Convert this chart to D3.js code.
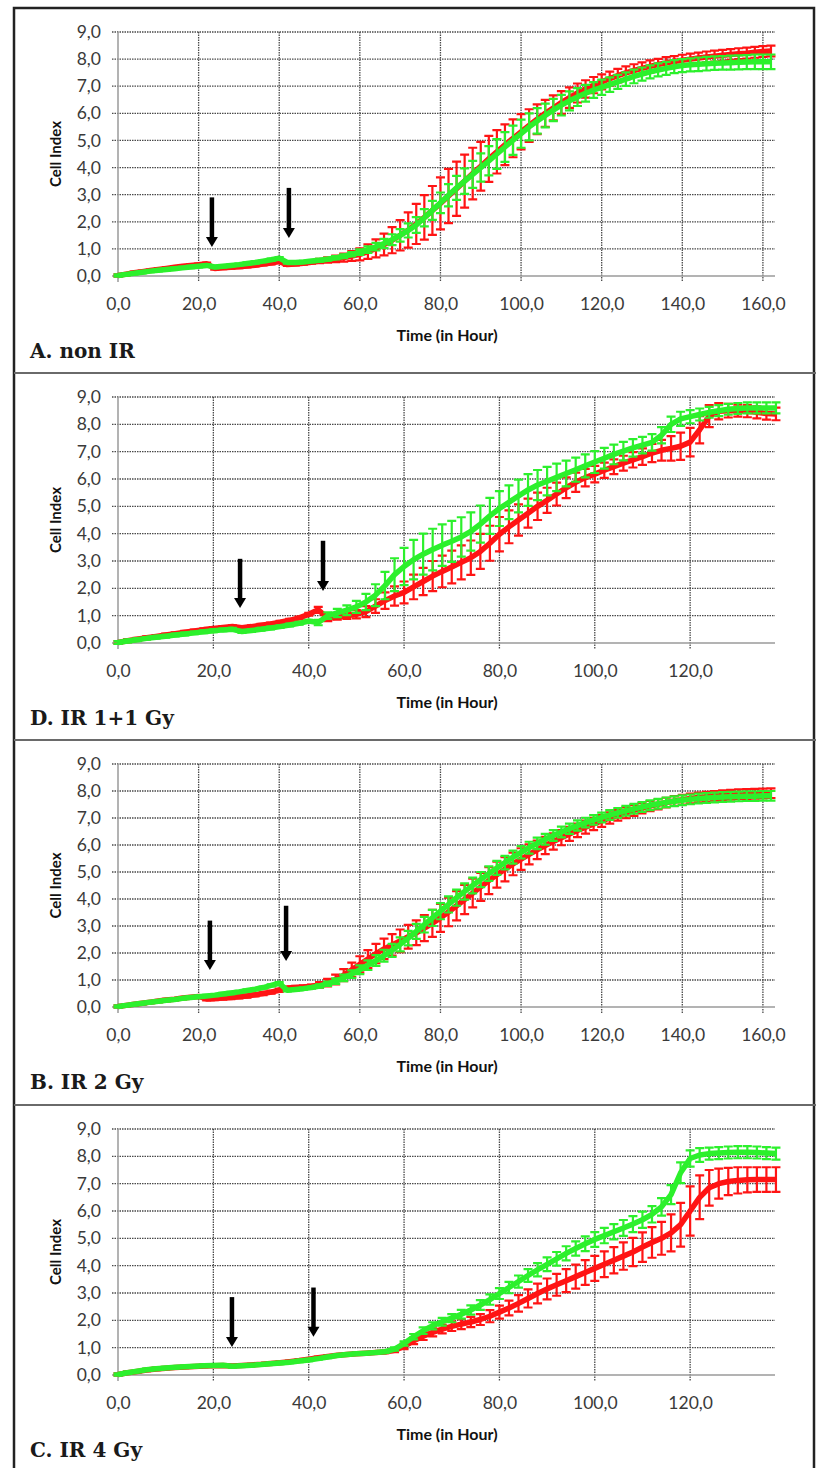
<!DOCTYPE html>
<html>
<head>
<meta charset="utf-8">
<script src="https://cdn.jsdelivr.net/npm/d3@7"></script>
<style>
  body { margin: 0; background: #fff; }
  svg { display: block; }
</style>
</head>
<body>
<svg id="chart" width="816" height="1468"></svg>
<script>
// sampling times (hours)
const hoursLong = [0,2,4,6,8,10,12,14,16,18,20,22,24,26,28,30,32,34,36,38,40,42,44,46,48,50,52,54,56,58,
  60,62,64,66,68,70,72,74,76,78,80,82,84,86,88,90,92,94,96,98,100,102,104,106,108,110,112,114,116,118,
  120,122,124,126,128,130,132,134,136,138,140,142,144,146,148,150,152,154,156,158,160,162];
const hoursShort = [0,2,4,6,8,10,12,14,16,18,20,22,24,26,28,30,32,34,36,38,40,42,44,46,48,50,52,54,56,58,
  60,62,64,66,68,70,72,74,76,78,80,82,84,86,88,90,92,94,96,98,100,102,104,106,108,110,112,114,116,118,
  120,122,124,126,128,130,132,134,136,138];

const yTicks = [0,1,2,3,4,5,6,7,8,9];
const xTicksLong = [0,20,40,60,80,100,120,140,160];
const xTicksShort = [0,20,40,60,80,100,120];

// A. non IR
const redMeanA = [0.02,0.07,0.12,0.16,0.20,0.24,0.28,0.32,0.36,0.39,
  0.42,0.45,0.28,0.30,0.32,0.34,0.37,0.40,0.44,0.48,
  0.53,0.42,0.44,0.47,0.51,0.55,0.59,0.63,0.68,0.74,
  0.80,0.90,1.02,1.16,1.32,1.50,1.70,1.92,2.16,2.42,
  2.68,2.95,3.22,3.50,3.78,4.05,4.32,4.58,4.84,5.08,
  5.32,5.55,5.78,6.00,6.20,6.40,6.58,6.75,6.90,7.04,
  7.16,7.28,7.39,7.49,7.58,7.66,7.73,7.80,7.86,7.91,
  7.96,8.00,8.04,8.08,8.11,8.14,8.17,8.20,8.22,8.25,
  8.28,8.30];
const redSdA = [0.04,0.04,0.04,0.04,0.04,0.04,0.04,0.04,0.04,0.04,
  0.04,0.04,0.05,0.05,0.05,0.05,0.05,0.05,0.05,0.05,
  0.05,0.05,0.05,0.05,0.05,0.08,0.10,0.12,0.15,0.18,
  0.22,0.27,0.33,0.40,0.48,0.56,0.65,0.74,0.82,0.90,
  0.96,1.00,1.00,0.98,0.95,0.90,0.85,0.80,0.75,0.70,
  0.65,0.60,0.55,0.50,0.46,0.42,0.38,0.35,0.32,0.30,
  0.28,0.26,0.25,0.24,0.23,0.22,0.22,0.21,0.21,0.20,
  0.20,0.20,0.20,0.20,0.20,0.20,0.20,0.20,0.20,0.20,
  0.20,0.20];
const greenMeanA = [0.02,0.06,0.10,0.14,0.18,0.21,0.24,0.27,0.30,0.33,
  0.36,0.39,0.33,0.36,0.39,0.42,0.46,0.50,0.55,0.60,
  0.66,0.50,0.50,0.52,0.55,0.58,0.62,0.67,0.73,0.80,
  0.88,0.97,1.08,1.20,1.34,1.50,1.68,1.88,2.15,2.42,
  2.70,2.98,3.25,3.50,3.75,4.00,4.25,4.50,4.76,5.01,
  5.25,5.50,5.72,5.92,6.12,6.30,6.46,6.60,6.74,6.86,
  6.96,7.06,7.16,7.26,7.36,7.45,7.53,7.60,7.66,7.72,
  7.76,7.79,7.81,7.83,7.85,7.86,7.87,7.88,7.89,7.90,
  7.90,7.90];
const greenSdA = [0.04,0.04,0.04,0.04,0.04,0.04,0.04,0.04,0.04,0.04,
  0.04,0.04,0.04,0.04,0.04,0.04,0.04,0.04,0.04,0.04,
  0.04,0.04,0.04,0.04,0.04,0.05,0.05,0.06,0.07,0.08,
  0.10,0.12,0.14,0.17,0.20,0.23,0.26,0.29,0.32,0.35,
  0.38,0.41,0.44,0.47,0.50,0.52,0.54,0.55,0.55,0.54,
  0.52,0.50,0.47,0.44,0.41,0.38,0.35,0.33,0.31,0.29,
  0.28,0.27,0.26,0.25,0.25,0.24,0.24,0.24,0.24,0.24,
  0.24,0.24,0.25,0.25,0.25,0.25,0.26,0.26,0.26,0.27,
  0.27,0.27];

// D. IR 1+1 Gy
const redMeanD = [0.02,0.08,0.14,0.19,0.24,0.29,0.34,0.39,0.44,0.49,
  0.53,0.57,0.60,0.56,0.60,0.65,0.70,0.76,0.83,0.92,
  1.05,1.22,0.90,0.95,1.00,1.05,1.15,1.35,1.55,1.72,
  1.85,2.05,2.25,2.45,2.62,2.78,2.95,3.12,3.35,3.65,
  3.98,4.25,4.50,4.75,5.00,5.22,5.45,5.68,5.88,6.05,
  6.18,6.32,6.45,6.58,6.70,6.82,6.95,7.05,7.12,7.20,
  7.35,7.80,8.30,8.48,8.50,8.50,8.48,8.44,8.40,8.38];
const redSdD = [0.05,0.05,0.05,0.05,0.05,0.05,0.05,0.05,0.05,0.05,
  0.05,0.05,0.05,0.05,0.05,0.05,0.05,0.05,0.05,0.05,
  0.05,0.10,0.10,0.10,0.12,0.15,0.20,0.25,0.30,0.35,
  0.40,0.45,0.50,0.55,0.58,0.60,0.62,0.63,0.64,0.64,
  0.63,0.60,0.57,0.53,0.50,0.46,0.42,0.38,0.35,0.32,
  0.30,0.28,0.27,0.27,0.28,0.30,0.33,0.38,0.45,0.50,
  0.52,0.50,0.40,0.30,0.25,0.22,0.22,0.22,0.23,0.23];
const greenMeanD = [0.02,0.07,0.12,0.17,0.21,0.25,0.29,0.33,0.37,0.41,
  0.45,0.48,0.50,0.42,0.46,0.50,0.55,0.60,0.66,0.72,
  0.80,0.75,1.00,1.10,1.20,1.32,1.50,1.75,2.10,2.50,
  2.80,3.05,3.25,3.42,3.58,3.72,3.88,4.08,4.35,4.65,
  4.92,5.15,5.38,5.60,5.78,5.92,6.06,6.20,6.34,6.48,
  6.62,6.76,6.90,7.02,7.14,7.24,7.34,7.60,8.00,8.20,
  8.28,8.36,8.44,8.50,8.55,8.58,8.60,8.60,8.60,8.60];
const greenSdD = [0.05,0.05,0.05,0.05,0.05,0.05,0.05,0.05,0.05,0.05,
  0.05,0.05,0.05,0.05,0.05,0.05,0.05,0.05,0.05,0.05,
  0.05,0.10,0.12,0.15,0.18,0.22,0.30,0.40,0.50,0.60,
  0.68,0.72,0.75,0.76,0.76,0.75,0.72,0.70,0.68,0.66,
  0.64,0.62,0.60,0.58,0.55,0.52,0.50,0.47,0.44,0.42,
  0.40,0.38,0.36,0.34,0.32,0.30,0.30,0.30,0.28,0.26,
  0.24,0.22,0.20,0.20,0.20,0.20,0.20,0.20,0.20,0.20];

// B. IR 2 Gy
const redMeanB = [0.02,0.06,0.10,0.14,0.18,0.22,0.26,0.29,0.33,0.36,
  0.39,0.30,0.31,0.33,0.35,0.38,0.41,0.45,0.50,0.55,
  0.62,0.70,0.72,0.74,0.77,0.82,0.90,1.02,1.18,1.38,
  1.58,1.78,1.98,2.15,2.30,2.45,2.60,2.75,2.92,3.10,
  3.30,3.52,3.75,3.98,4.22,4.45,4.68,4.90,5.10,5.30,
  5.48,5.65,5.82,5.98,6.13,6.27,6.41,6.54,6.66,6.78,
  6.89,7.00,7.10,7.19,7.28,7.36,7.44,7.51,7.57,7.63,
  7.68,7.72,7.76,7.79,7.82,7.84,7.86,7.88,7.89,7.90,
  7.91,7.92];
const redSdB = [0.04,0.04,0.04,0.04,0.04,0.04,0.04,0.04,0.04,0.04,
  0.04,0.06,0.06,0.06,0.06,0.06,0.06,0.06,0.06,0.06,
  0.06,0.06,0.06,0.06,0.06,0.10,0.14,0.18,0.22,0.26,
  0.30,0.33,0.36,0.38,0.40,0.42,0.44,0.46,0.48,0.50,
  0.52,0.53,0.54,0.54,0.53,0.52,0.50,0.48,0.45,0.42,
  0.40,0.37,0.34,0.32,0.30,0.28,0.26,0.25,0.24,0.23,
  0.22,0.21,0.20,0.20,0.20,0.19,0.19,0.19,0.18,0.18,
  0.18,0.18,0.18,0.18,0.18,0.18,0.18,0.18,0.18,0.18,
  0.18,0.18];
const greenMeanB = [0.02,0.06,0.10,0.14,0.18,0.21,0.25,0.28,0.32,0.35,
  0.38,0.41,0.44,0.48,0.52,0.56,0.61,0.66,0.72,0.80,
  0.88,0.62,0.65,0.68,0.72,0.78,0.86,0.96,1.08,1.22,
  1.38,1.55,1.72,1.90,2.10,2.32,2.55,2.80,3.05,3.30,
  3.55,3.80,4.05,4.28,4.50,4.72,4.94,5.15,5.35,5.55,
  5.73,5.90,6.06,6.21,6.35,6.48,6.60,6.72,6.83,6.93,
  7.02,7.11,7.19,7.27,7.34,7.41,7.47,7.53,7.58,7.62,
  7.66,7.69,7.72,7.74,7.76,7.78,7.79,7.80,7.81,7.81,
  7.82,7.82];
const greenSdB = [0.04,0.04,0.04,0.04,0.04,0.04,0.04,0.04,0.04,0.04,
  0.04,0.04,0.04,0.04,0.04,0.04,0.04,0.04,0.04,0.04,
  0.04,0.04,0.04,0.04,0.04,0.06,0.08,0.10,0.12,0.14,
  0.16,0.18,0.20,0.22,0.24,0.26,0.27,0.28,0.29,0.30,
  0.30,0.30,0.30,0.30,0.29,0.28,0.27,0.26,0.25,0.24,
  0.23,0.22,0.21,0.20,0.20,0.20,0.19,0.19,0.18,0.18,
  0.18,0.18,0.18,0.18,0.18,0.18,0.18,0.18,0.18,0.18,
  0.18,0.18,0.18,0.18,0.18,0.18,0.18,0.18,0.18,0.18,
  0.18,0.18];

// C. IR 4 Gy
const redMeanC = [0.02,0.08,0.13,0.18,0.22,0.25,0.27,0.29,0.31,0.33,
  0.34,0.35,0.33,0.35,0.37,0.39,0.42,0.45,0.49,0.53,
  0.58,0.63,0.68,0.72,0.75,0.78,0.80,0.82,0.84,0.90,
  1.05,1.25,1.42,1.56,1.68,1.78,1.86,1.94,2.03,2.15,
  2.30,2.45,2.62,2.80,2.98,3.15,3.30,3.45,3.60,3.75,
  3.90,4.05,4.20,4.35,4.50,4.68,4.85,5.00,5.20,5.50,
  6.00,6.50,6.85,7.00,7.08,7.12,7.14,7.15,7.15,7.15];
const redSdC = [0.04,0.04,0.04,0.04,0.04,0.04,0.04,0.04,0.04,0.04,
  0.04,0.04,0.04,0.04,0.04,0.04,0.04,0.04,0.04,0.04,
  0.04,0.04,0.04,0.04,0.04,0.04,0.04,0.04,0.04,0.06,
  0.10,0.12,0.14,0.15,0.16,0.17,0.18,0.19,0.20,0.22,
  0.24,0.27,0.30,0.33,0.36,0.38,0.40,0.42,0.44,0.45,
  0.46,0.47,0.48,0.50,0.52,0.54,0.56,0.60,0.68,0.80,
  0.90,0.80,0.65,0.55,0.50,0.48,0.46,0.45,0.45,0.45];
const greenMeanC = [0.02,0.08,0.14,0.19,0.23,0.26,0.28,0.30,0.32,0.34,
  0.35,0.36,0.32,0.34,0.36,0.38,0.41,0.44,0.47,0.51,
  0.55,0.60,0.66,0.71,0.75,0.78,0.80,0.82,0.85,0.95,
  1.15,1.40,1.62,1.80,1.95,2.08,2.22,2.38,2.56,2.76,
  2.98,3.20,3.42,3.64,3.85,4.05,4.25,4.45,4.63,4.80,
  4.96,5.10,5.24,5.38,5.52,5.68,5.88,6.15,6.60,7.40,
  7.92,8.05,8.10,8.12,8.14,8.15,8.15,8.14,8.12,8.10];
const greenSdC = [0.04,0.04,0.04,0.04,0.04,0.04,0.04,0.04,0.04,0.04,
  0.04,0.04,0.04,0.04,0.04,0.04,0.04,0.04,0.04,0.04,
  0.04,0.04,0.04,0.04,0.04,0.04,0.04,0.04,0.04,0.06,
  0.08,0.10,0.12,0.13,0.14,0.15,0.16,0.17,0.18,0.19,
  0.20,0.21,0.22,0.23,0.24,0.25,0.25,0.26,0.26,0.27,
  0.27,0.28,0.28,0.29,0.29,0.30,0.30,0.32,0.35,0.38,
  0.30,0.25,0.22,0.22,0.22,0.22,0.22,0.22,0.22,0.22];

// arrows: hour, start and end cell index
const arrowsA = [[23.3, 2.9, 1.07], [42.4, 3.25, 1.4]];
const arrowsD = [[25.6, 3.08, 1.28], [43.0, 3.74, 1.9]];
const arrowsB = [[22.8, 3.2, 1.37], [41.7, 3.75, 1.7]];
const arrowsC = [[23.9, 2.85, 1.02], [41.0, 3.2, 1.4]];

const panelTitles = ["A. non IR", "D. IR 1+1 Gy", "B. IR 2 Gy", "C. IR 4 Gy"];

const panels = [
  { title: panelTitles[0], hours: hoursLong, xTicks: xTicksLong, xMax: 163, top: 32, bottom: 276,
    red: [redMeanA, redSdA], green: [greenMeanA, greenSdA], arrows: arrowsA },
  { title: panelTitles[1], hours: hoursShort, xTicks: xTicksShort, xMax: 137.8, top: 397, bottom: 643,
    red: [redMeanD, redSdD], green: [greenMeanD, greenSdD], arrows: arrowsD },
  { title: panelTitles[2], hours: hoursLong, xTicks: xTicksLong, xMax: 163, top: 764, bottom: 1007,
    red: [redMeanB, redSdB], green: [greenMeanB, greenSdB], arrows: arrowsB },
  { title: panelTitles[3], hours: hoursShort, xTicks: xTicksShort, xMax: 137.8, top: 1129, bottom: 1375,
    red: [redMeanC, redSdC], green: [greenMeanC, greenSdC], arrows: arrowsC }
];

const svg = d3.select("#chart");
const W = 816, H = 1468;
const left = 118, right = 775;
const fmt = d => d.toFixed(1).replace(".", ",");
const RED = "#ff1414", GREEN = "#2cf02c";

svg.append("rect").attr("width", W).attr("height", H).attr("fill", "#fff");

function drawPanel(p) {
  const g = svg.append("g");
  const x = d3.scaleLinear().domain([0, p.xMax]).range([left, right]);
  const y = d3.scaleLinear().domain([0, 9]).range([p.bottom, p.top]);

  // horizontal grid
  g.selectAll(".hgrid").data(yTicks.slice(1)).enter().append("line")
    .attr("x1", left - 6).attr("x2", right)
    .attr("y1", d => y(d)).attr("y2", d => y(d))
    .attr("stroke", "#4a4a4a").attr("stroke-width", 1.3).attr("stroke-dasharray", "1.5,1");
  // vertical grid
  g.selectAll(".vgrid").data(p.xTicks.slice(1)).enter().append("line")
    .attr("x1", d => x(d)).attr("x2", d => x(d))
    .attr("y1", p.top).attr("y2", p.bottom + 6)
    .attr("stroke", "#4a4a4a").attr("stroke-width", 1.3).attr("stroke-dasharray", "1.5,1");

  // axes lines
  g.append("line").attr("x1", left - 6).attr("x2", right).attr("y1", y(0)).attr("y2", y(0))
    .attr("stroke", "#9a9a9a").attr("stroke-width", 1.5);
  g.append("line").attr("x1", left).attr("x2", left).attr("y1", p.top).attr("y2", p.bottom + 6)
    .attr("stroke", "#9a9a9a").attr("stroke-width", 1.5);

  // tick labels
  const yAxis = g.append("g").attr("transform", `translate(${left},0)`)
    .call(d3.axisLeft(y).tickValues(yTicks).tickFormat(fmt).tickSize(0).tickPadding(17));
  const xAxis = g.append("g").attr("transform", `translate(0,${p.bottom})`)
    .call(d3.axisBottom(x).tickValues(p.xTicks).tickFormat(fmt).tickSize(0).tickPadding(22));
  [yAxis, xAxis].forEach(a => {
    a.select(".domain").remove();
    a.selectAll("text").attr("font-family", "Lato, 'Open Sans', sans-serif")
      .attr("font-size", 17.5).attr("fill", "#3a3a3a");
  });

  g.append("text")
    .attr("transform", `translate(61,${(p.top + p.bottom) / 2}) rotate(-90)`)
    .attr("text-anchor", "middle")
    .attr("font-family", "Lato, sans-serif").attr("font-weight", "bold")
    .attr("font-size", 15).attr("fill", "#111")
    .text("Cell Index");
  g.append("text")
    .attr("x", 447).attr("y", p.bottom + 65)
    .attr("text-anchor", "middle")
    .attr("font-family", "Lato, sans-serif").attr("font-weight", "bold")
    .attr("font-size", 16).attr("fill", "#111")
    .text("Time (in Hour)");
  g.append("text")
    .attr("x", 30).attr("y", p.bottom + 82)
    .attr("font-family", "'DejaVu Serif', serif").attr("font-weight", "bold")
    .attr("font-size", 20).attr("fill", "#1a1a1a")
    .text(p.title);

  // series
  [[p.red, RED], [p.green, GREEN]].forEach(([s, color]) => {
    const pts = p.hours.map((h, i) => ({ h, m: s[0][i], sd: s[1][i] }))
      .filter(d => d.m != null && d.sd != null);
    g.append("g").selectAll("path").data(pts).enter().append("path")
      .attr("d", d => {
        const cx = x(d.h), y1 = y(d.m + d.sd), y2 = y(d.m - d.sd);
        return `M${cx - 4.5},${y1}H${cx + 4.5}M${cx},${y1}V${y2}M${cx - 4.5},${y2}H${cx + 4.5}`;
      })
      .attr("fill", "none").attr("stroke", color).attr("stroke-width", 2.2);
    g.append("path").datum(pts)
      .attr("d", d3.line().x(d => x(d.h)).y(d => y(d.m)))
      .attr("fill", "none").attr("stroke", color).attr("stroke-width", 5.5)
      .attr("stroke-linejoin", "round");
  });

  // arrows
  p.arrows.forEach(([h, from, to]) => {
    const ax = x(h), y1 = y(from), y2 = y(to);
    g.append("line").attr("x1", ax).attr("x2", ax).attr("y1", y1).attr("y2", y2 - 8)
      .attr("stroke", "#000").attr("stroke-width", 4.5);
    g.append("path").attr("d", `M${ax - 6},${y2 - 10}L${ax + 6},${y2 - 10}L${ax},${y2}Z`)
      .attr("fill", "#000");
  });
}

panels.forEach(drawPanel);

// frame and separators
svg.append("path").attr("d", `M14,${H}V8H${W - 2}V${H}`)
  .attr("fill", "none").attr("stroke", "#222").attr("stroke-width", 2.5);
[373, 740, 1105].forEach(sy => {
  svg.append("line").attr("x1", 14).attr("x2", W).attr("y1", sy).attr("y2", sy)
    .attr("stroke", "#6a6a6a").attr("stroke-width", 2);
});
</script>
</body>
</html>
